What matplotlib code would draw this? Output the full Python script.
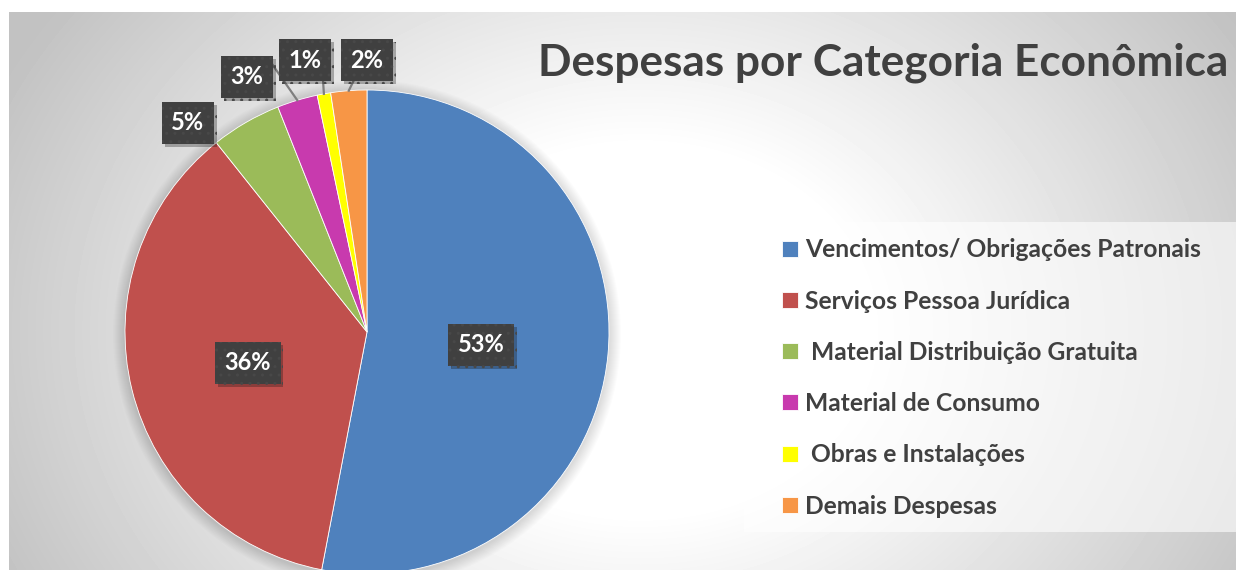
import numpy as np
import matplotlib
matplotlib.use("Agg")
import matplotlib.pyplot as plt
from matplotlib.patches import Rectangle, Circle
import matplotlib.patheffects as pe

categories = ["Vencimentos/ Obrigações Patronais", "Serviços Pessoa Jurídica",
              " Material Distribuição Gratuita", "Material de Consumo",
              " Obras e Instalações", "Demais Despesas"]
shares = [53.0, 36.3, 4.7, 2.7, 0.9, 2.4]
colors = ["#4f81bd", "#c0504d", "#9bbb59", "#c83aae", "#ffff00", "#f79646"]
title = "Despesas por Categoria Econômica"

W, H = 1236, 570
# label box centres (px from top-left) and leader anchor offsets (None = inside)
label_xy = [(481, 345), (248, 363), (188, 123), (247, 77), (305, 60), (367, 60)]
leader_off = [None, None, None, (25, -13), (18, 20), (-13, 20)]

plt.rcParams["font.family"] = ["Lato", "DejaVu Sans"]

fig = plt.figure(figsize=(W / 100, H / 100), dpi=100, facecolor="white")
ax = fig.add_axes([0, 0, 1, 1])

def Y(y):
    return H - y

# radial grey background
xx, yy = np.meshgrid(np.arange(9, W), np.arange(12, H))
d = np.hypot((xx - 640) / 1.0, (yy - 330) / 0.8)
g = np.clip((d - 230) / 480, 0, 1)
shade = 1 - 0.24 * g
ax.imshow(shade, cmap="gray", vmin=0, vmax=1, extent=(9, W, Y(H), Y(12)),
          origin="upper", zorder=0, aspect="auto", interpolation="bilinear")

cx, cy, R = 367, 332, 242

# soft shadow around pie
for i in range(12):
    ax.add_patch(Circle((cx, Y(cy + 2)), R + 12 - i, color="black",
                        alpha=0.012, lw=0, zorder=1))

wedges, _ = ax.pie(shares, colors=colors, startangle=90, counterclock=False,
                   center=(cx, Y(cy)), radius=R,
                   wedgeprops=dict(linewidth=0.6, edgecolor="white", zorder=2))

for w, (lx, ly), off, v in zip(wedges, label_xy, leader_off, shares):
    if off is not None:
        mid = np.deg2rad((w.theta1 + w.theta2) / 2)
        ax.plot([cx + R * np.cos(mid), lx + off[0]],
                [Y(cy) + R * np.sin(mid), Y(ly + off[1])],
                color="#7f7f7f", lw=1.6, zorder=3)
    t = ax.text(lx, Y(ly), f"{round(v):d}%", color="white", fontsize=17,
                fontweight="bold", ha="center", va="center", zorder=5,
                bbox=dict(boxstyle="square,pad=0.4", fc="#404040", ec="#484848",
                          lw=0, hatch=".."))
    t.get_bbox_patch().set_path_effects(
        [pe.SimplePatchShadow(offset=(2, -2), alpha=0.3), pe.Normal()])

ax.set_xlim(0, W)
ax.set_ylim(0, H)
ax.set_aspect("auto")
ax.axis("off")

ax.text(1228, Y(63), title, fontsize=31.8, fontweight="bold", color="#404040",
        ha="right", va="center", zorder=5)

ax.add_patch(Rectangle((744, Y(532)), W - 744, 310, facecolor="white",
                       alpha=0.6, lw=0, zorder=3))
leg = ax.legend(wedges, categories, loc="upper left",
                bbox_to_anchor=(770 / W, 1 - 226 / H), frameon=False,
                prop=dict(size=17.7, weight="bold"), labelcolor="#404040",
                handlelength=0.62, handleheight=0.62, handletextpad=0.3,
                labelspacing=1.15, borderpad=0)

fig.savefig("out.png", dpi=100, facecolor="white")
